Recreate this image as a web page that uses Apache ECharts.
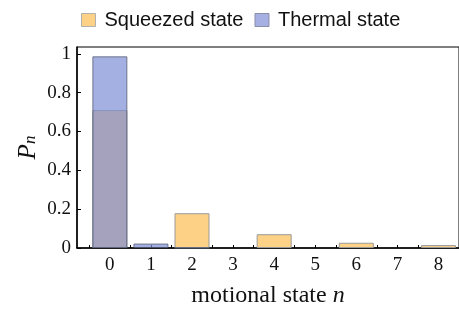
<!DOCTYPE html>
<html lang="en">
  <head>
    <meta charset="UTF-8" />
    <title>Squeezed vs thermal</title>
    <script src="https://cdn.jsdelivr.net/npm/echarts@6/dist/echarts.min.js"></script>
    <style>
      html, body { margin: 0; padding: 0; background: #fff; }
      #main { width: 459px; height: 310px; }
    </style>
  </head>
  <body>
    <div id="main"></div>
    <script>
      // motional state n and probabilities
      const states = [0, 1, 2, 3, 4, 5, 6, 7, 8];
      const squeezed = [0.71, 0, 0.179, 0, 0.071, 0, 0.027, 0, 0.015];
      const thermal = [0.987, 0.023, 0.0005, 0, 0, 0, 0, 0, 0];
      const yTicks = [0, 0.2, 0.4, 0.6, 0.8, 1];
      const xTicks = [-0.5, 0, 0.5, 1, 1.5, 2, 2.5, 3, 3.5, 4, 4.5, 5, 5.5, 6, 6.5, 7, 7.5, 8, 8.5];

      const serif = "Liberation Serif";
      // empty states get no bar at all (otherwise the border leaves a line)
      const toPoints = (vals) => states.map((n, i) => [n, vals[i] > 0 ? vals[i] : null]);

      const chart = echarts.init(document.getElementById("main"));
      chart.setOption({
        animation: false,
        legend: {
          left: 76,
          top: 5,
          itemWidth: 14,
          itemHeight: 13,
          itemGap: 11,
          icon: "rect",
          textStyle: {
            fontFamily: "Liberation Sans",
            fontSize: 20,
            color: "#111",
            padding: [0, 0, 0, 4],
          },
          data: [
            { name: "Squeezed state", itemStyle: { color: "#FDD287", borderColor: "#b0b0b0", borderWidth: 1 } },
            { name: "Thermal state", itemStyle: { color: "#A6B0E2", borderColor: "#8a8fa8", borderWidth: 1 } },
          ],
        },
        grid: {
          left: 77,
          right: 0,
          top: 47,
          bottom: 62,
          outerBoundsMode: "none",
          show: true,
          borderColor: "#000",
          borderWidth: 1,
        },
        xAxis: {
          type: "value",
          min: -0.8,
          max: 8.5,
          name: "motional state {i|n}",
          nameLocation: "middle",
          nameGap: 36,
          nameTextStyle: {
            fontFamily: serif,
            fontSize: 24,
            color: "#111",
            rich: { i: { fontFamily: serif, fontSize: 24, fontStyle: "italic", color: "#111" } },
          },
          axisLine: { onZero: false, lineStyle: { color: "#000", width: 1.5 } },
          axisTick: {
            inside: true,
            length: 3,
            customValues: xTicks,
            lineStyle: { color: "#000" },
          },
          axisLabel: {
            customValues: states,
            fontFamily: serif,
            fontSize: 19,
            color: "#111",
            margin: 8,
          },
          splitLine: { show: false },
        },
        yAxis: {
          type: "value",
          min: 0,
          max: 1.035,
          name: "{p|P}{n|n}",
          nameLocation: "middle",
          nameRotate: 90,
          nameGap: 36,
          nameMoveOverlap: false,
          nameTextStyle: {
            rich: {
              p: { fontFamily: serif, fontSize: 25, fontStyle: "italic", color: "#111" },
              n: { fontFamily: serif, fontSize: 17, fontStyle: "italic", color: "#111", padding: [4, 0, 0, 0] },
            },
          },
          axisLine: { show: true, onZero: false, lineStyle: { color: "#000", width: 1.5 } },
          axisTick: {
            show: true,
            inside: true,
            length: 4,
            customValues: yTicks,
            lineStyle: { color: "#000" },
          },
          axisLabel: {
            customValues: yTicks,
            fontFamily: serif,
            fontSize: 19,
            color: "#111",
            margin: 6,
          },
          splitLine: { show: false },
        },
        series: [
          {
            name: "Squeezed state",
            type: "bar",
            barWidth: 35,
            barGap: "-100%",
            data: toPoints(squeezed),
            itemStyle: {
              color: "#FDD287",
              borderColor: "#9a9a9a",
              borderWidth: 1,
            },
          },
          {
            name: "Thermal state",
            type: "bar",
            barWidth: 35,
            barGap: "-100%",
            data: toPoints(thermal),
            itemStyle: {
              color: "rgba(125,141,213,0.69)",
              borderColor: "rgba(80,85,110,0.75)",
              borderWidth: 1,
            },
          },
        ],
      });
    </script>
  </body>
</html>
